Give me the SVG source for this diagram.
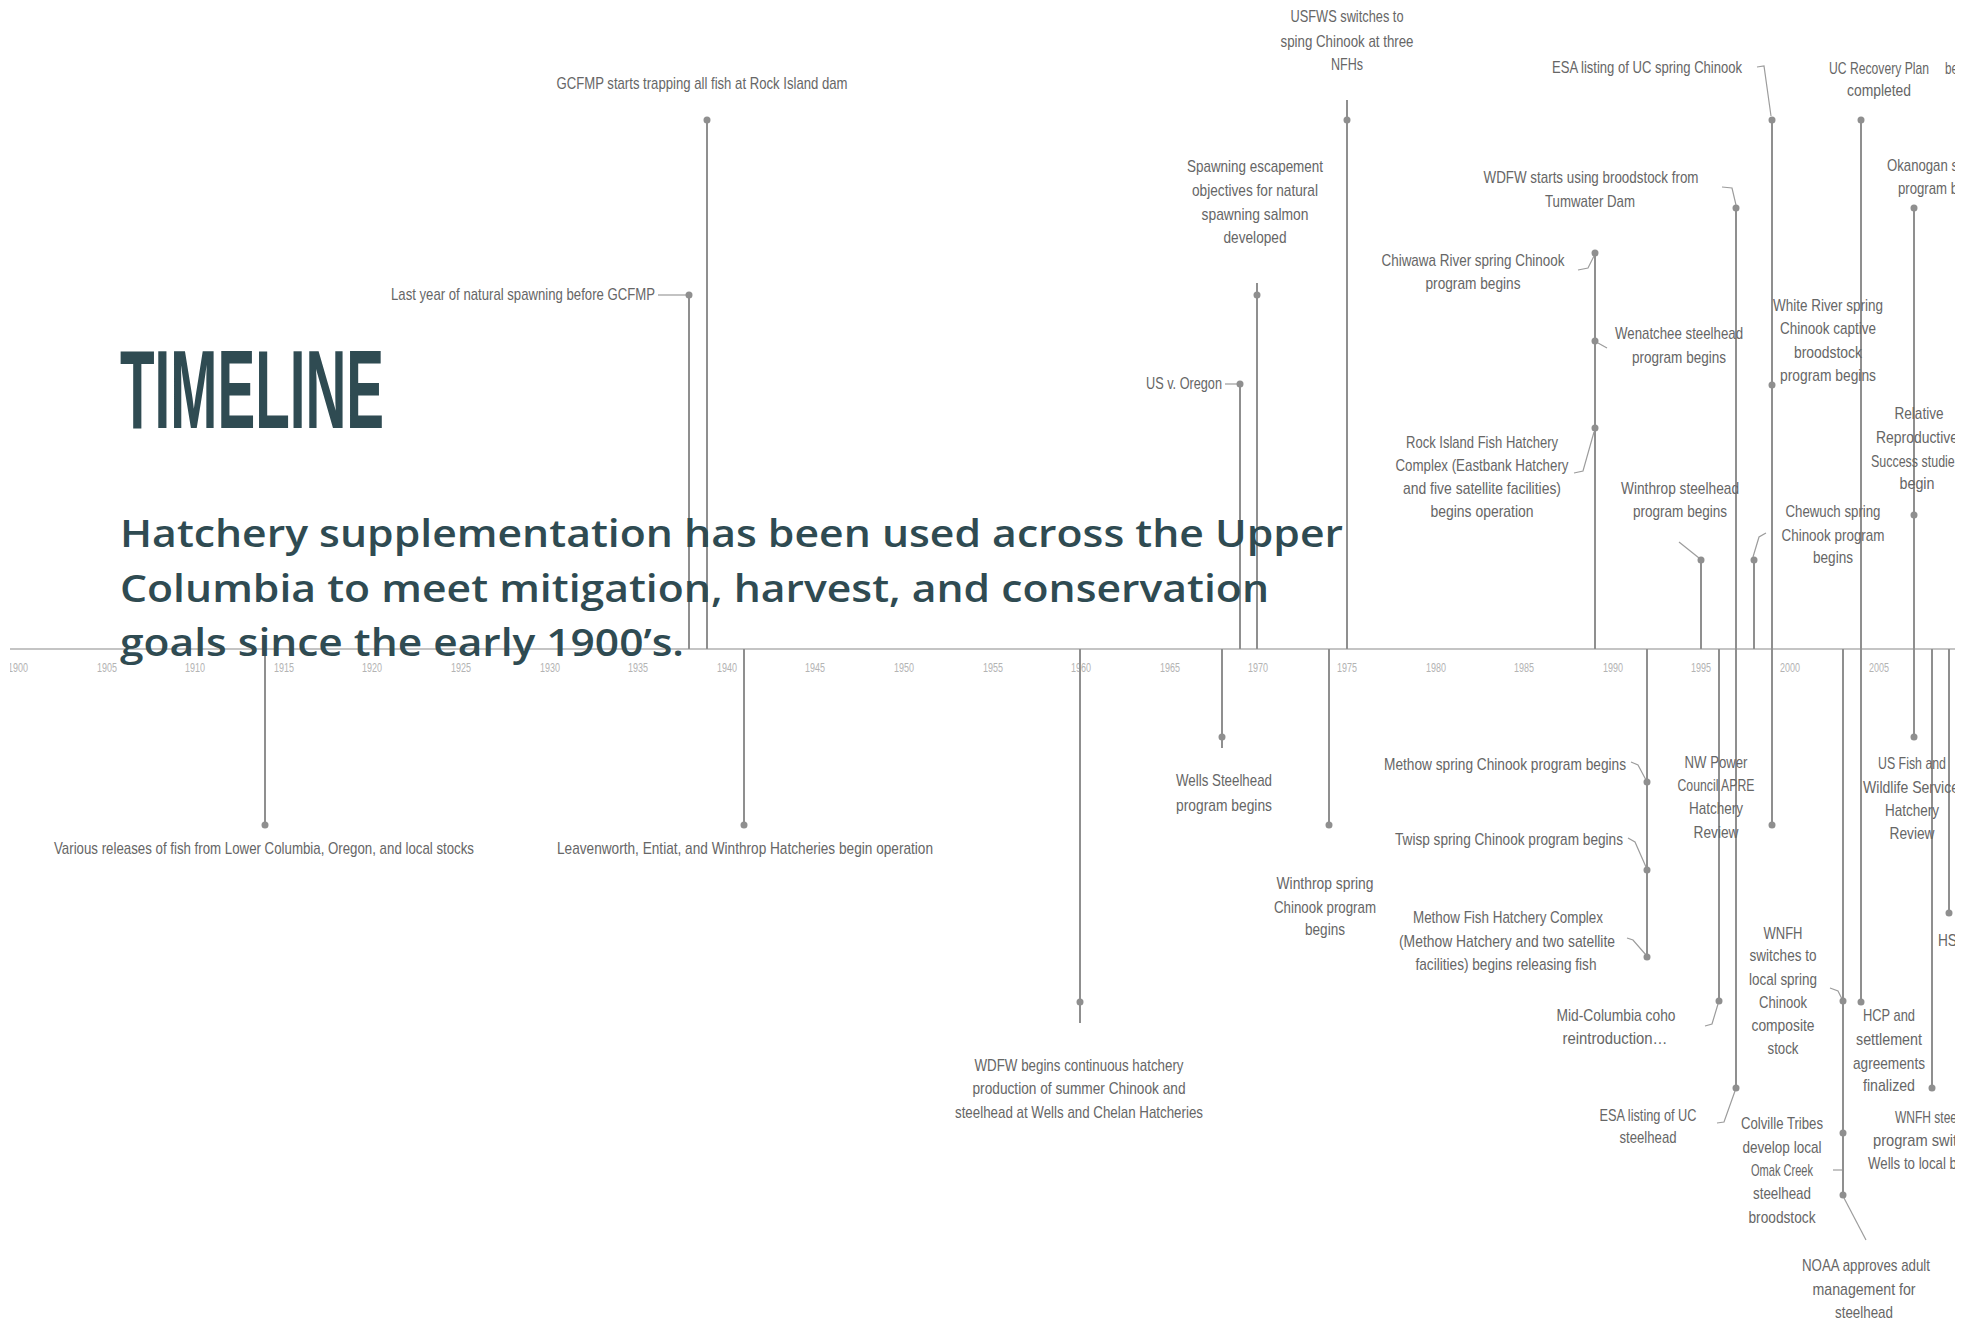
<svg xmlns="http://www.w3.org/2000/svg" width="1976" height="1322" viewBox="0 0 1976 1322">
<style>
text{font-family:"Liberation Sans",Arial,sans-serif}
.lbl{font-size:17px;fill:#666;text-anchor:middle}
.ls{font-size:17px;fill:#666;text-anchor:start}
.yr{font-size:13px;fill:#b3b3b3;text-anchor:middle}
.ln{stroke:#8f8f8f;stroke-width:2;fill:none}
.ld{stroke:#9c9c9c;stroke-width:1.2;fill:none}
.dt{fill:#8f8f8f}
.ttl{font-size:111px;font-weight:bold;fill:#2f4b52}
.sub{font-family:"Open Sans","Noto Sans",sans-serif;font-size:38px;font-weight:600;fill:#2f4b52}
</style>
<defs>
<clipPath id="cl"><rect x="10" y="0" width="1945" height="1322"/></clipPath>
</defs>
<rect width="1976" height="1322" fill="#fff"/>
<g clip-path="url(#cl)">
<g id="axis">
<line x1="10" y1="649" x2="1955" y2="649" stroke="#c4c4c4" stroke-width="2"/>
<g class="yr">
<text x="18" y="672" textLength="20" lengthAdjust="spacingAndGlyphs">1900</text>
<text x="107" y="672" textLength="20" lengthAdjust="spacingAndGlyphs">1905</text>
<text x="195" y="672" textLength="20" lengthAdjust="spacingAndGlyphs">1910</text>
<text x="284" y="672" textLength="20" lengthAdjust="spacingAndGlyphs">1915</text>
<text x="372" y="672" textLength="20" lengthAdjust="spacingAndGlyphs">1920</text>
<text x="461" y="672" textLength="20" lengthAdjust="spacingAndGlyphs">1925</text>
<text x="550" y="672" textLength="20" lengthAdjust="spacingAndGlyphs">1930</text>
<text x="638" y="672" textLength="20" lengthAdjust="spacingAndGlyphs">1935</text>
<text x="727" y="672" textLength="20" lengthAdjust="spacingAndGlyphs">1940</text>
<text x="815" y="672" textLength="20" lengthAdjust="spacingAndGlyphs">1945</text>
<text x="904" y="672" textLength="20" lengthAdjust="spacingAndGlyphs">1950</text>
<text x="993" y="672" textLength="20" lengthAdjust="spacingAndGlyphs">1955</text>
<text x="1081" y="672" textLength="20" lengthAdjust="spacingAndGlyphs">1960</text>
<text x="1170" y="672" textLength="20" lengthAdjust="spacingAndGlyphs">1965</text>
<text x="1258" y="672" textLength="20" lengthAdjust="spacingAndGlyphs">1970</text>
<text x="1347" y="672" textLength="20" lengthAdjust="spacingAndGlyphs">1975</text>
<text x="1436" y="672" textLength="20" lengthAdjust="spacingAndGlyphs">1980</text>
<text x="1524" y="672" textLength="20" lengthAdjust="spacingAndGlyphs">1985</text>
<text x="1613" y="672" textLength="20" lengthAdjust="spacingAndGlyphs">1990</text>
<text x="1701" y="672" textLength="20" lengthAdjust="spacingAndGlyphs">1995</text>
<text x="1790" y="672" textLength="20" lengthAdjust="spacingAndGlyphs">2000</text>
<text x="1879" y="672" textLength="20" lengthAdjust="spacingAndGlyphs">2005</text>
</g>
</g>
<g id="connectors">
<line class="ln" x1="265" y1="649" x2="265" y2="825"/>
<line class="ln" x1="689" y1="295" x2="689" y2="649"/>
<line class="ln" x1="707" y1="117" x2="707" y2="649"/>
<line class="ln" x1="744" y1="649" x2="744" y2="825"/>
<line class="ln" x1="1080" y1="649" x2="1080" y2="1023"/>
<line class="ln" x1="1222" y1="649" x2="1222" y2="748"/>
<line class="ln" x1="1240" y1="384" x2="1240" y2="649"/>
<line class="ln" x1="1257" y1="283" x2="1257" y2="649"/>
<line class="ln" x1="1329" y1="649" x2="1329" y2="825"/>
<line class="ln" x1="1347" y1="100" x2="1347" y2="649"/>
<line class="ln" x1="1595" y1="253" x2="1595" y2="649"/>
<line class="ln" x1="1647" y1="649" x2="1647" y2="957"/>
<line class="ln" x1="1701" y1="560" x2="1701" y2="649"/>
<line class="ln" x1="1719" y1="649" x2="1719" y2="1001"/>
<line class="ln" x1="1736" y1="208" x2="1736" y2="1088"/>
<line class="ln" x1="1754" y1="560" x2="1754" y2="649"/>
<line class="ln" x1="1772" y1="118" x2="1772" y2="825"/>
<line class="ln" x1="1843" y1="649" x2="1843" y2="1197"/>
<line class="ln" x1="1861" y1="120" x2="1861" y2="1002"/>
<line class="ln" x1="1914" y1="208" x2="1914" y2="737"/>
<line class="ln" x1="1932" y1="649" x2="1932" y2="1088"/>
<line class="ln" x1="1949" y1="649" x2="1949" y2="913"/>
<path class="ld" d="M658,295 H686"/>
<path class="ld" d="M1225,384 H1237"/>
<path class="ld" d="M1578,270 L1588,268 L1594,256"/>
<path class="ld" d="M1598,343 L1607,348"/>
<path class="ld" d="M1574,473 L1583,471 L1594,432"/>
<path class="ld" d="M1631,762 L1638,765 L1646,780"/>
<path class="ld" d="M1628,838 L1635,842 L1646,867"/>
<path class="ld" d="M1627,938 L1633,940 L1646,955"/>
<path class="ld" d="M1679,542 L1699,558"/>
<path class="ld" d="M1705,1026 L1712,1024 L1718,1004"/>
<path class="ld" d="M1722,187 L1732,188 L1736,205"/>
<path class="ld" d="M1717,1123 L1724,1122 L1735,1091"/>
<path class="ld" d="M1753,557 L1759,537 L1766,533"/>
<path class="ld" d="M1757,67 L1764,66 L1771,116"/>
<path class="ld" d="M1830,988 L1838,991 L1842,999"/>
<path class="ld" d="M1833,1170 H1842"/>
<path class="ld" d="M1844,1198 L1866,1240"/>
<g class="dt">
<circle cx="265" cy="825" r="3.5"/>
<circle cx="689" cy="295" r="3.5"/>
<circle cx="707" cy="120" r="3.5"/>
<circle cx="744" cy="825" r="3.5"/>
<circle cx="1080" cy="1002" r="3.5"/>
<circle cx="1222" cy="737" r="3.5"/>
<circle cx="1240" cy="384" r="3.5"/>
<circle cx="1257" cy="295" r="3.5"/>
<circle cx="1329" cy="825" r="3.5"/>
<circle cx="1347" cy="120" r="3.5"/>
<circle cx="1595" cy="253" r="3.5"/>
<circle cx="1595" cy="341" r="3.5"/>
<circle cx="1595" cy="428" r="3.5"/>
<circle cx="1647" cy="782" r="3.5"/>
<circle cx="1647" cy="870" r="3.5"/>
<circle cx="1647" cy="957" r="3.5"/>
<circle cx="1701" cy="560" r="3.5"/>
<circle cx="1719" cy="1001" r="3.5"/>
<circle cx="1736" cy="208" r="3.5"/>
<circle cx="1736" cy="1088" r="3.5"/>
<circle cx="1754" cy="560" r="3.5"/>
<circle cx="1772" cy="120" r="3.5"/>
<circle cx="1772" cy="385" r="3.5"/>
<circle cx="1772" cy="825" r="3.5"/>
<circle cx="1843" cy="1001" r="3.5"/>
<circle cx="1843" cy="1133" r="3.5"/>
<circle cx="1843" cy="1195" r="3.5"/>
<circle cx="1861" cy="120" r="3.5"/>
<circle cx="1861" cy="1002" r="3.5"/>
<circle cx="1914" cy="208" r="3.5"/>
<circle cx="1914" cy="515" r="3.5"/>
<circle cx="1914" cy="737" r="3.5"/>
<circle cx="1932" cy="1088" r="3.5"/>
<circle cx="1949" cy="913" r="3.5"/>
</g>
</g>
<g id="ev-gcfmp" class="lbl"><text x="702" y="89" textLength="291" lengthAdjust="spacingAndGlyphs">GCFMP starts trapping all fish at Rock Island dam</text></g>
<g id="ev-lastyear" class="lbl"><text x="523" y="300" textLength="264" lengthAdjust="spacingAndGlyphs">Last year of natural spawning before GCFMP</text></g>
<g id="ev-usvoregon" class="lbl"><text x="1184" y="389" textLength="76" lengthAdjust="spacingAndGlyphs">US v. Oregon</text></g>
<g id="ev-spawning" class="lbl">
<text x="1255" y="172" textLength="136" lengthAdjust="spacingAndGlyphs">Spawning escapement</text>
<text x="1255" y="196" textLength="126" lengthAdjust="spacingAndGlyphs">objectives for natural</text>
<text x="1255" y="220" textLength="107" lengthAdjust="spacingAndGlyphs">spawning salmon</text>
<text x="1255" y="243" textLength="63" lengthAdjust="spacingAndGlyphs">developed</text>
</g>
<g id="ev-usfws" class="lbl">
<text x="1347" y="22" textLength="113" lengthAdjust="spacingAndGlyphs">USFWS switches to</text>
<text x="1347" y="47" textLength="133" lengthAdjust="spacingAndGlyphs">sping Chinook at three</text>
<text x="1347" y="70" textLength="32" lengthAdjust="spacingAndGlyphs">NFHs</text>
</g>
<g id="ev-tumwater" class="lbl">
<text x="1591" y="183" textLength="215" lengthAdjust="spacingAndGlyphs">WDFW starts using broodstock from</text>
<text x="1590" y="207" textLength="90" lengthAdjust="spacingAndGlyphs">Tumwater Dam</text>
</g>
<g id="ev-chiwawa" class="lbl">
<text x="1473" y="266" textLength="183" lengthAdjust="spacingAndGlyphs">Chiwawa River spring Chinook</text>
<text x="1473" y="289" textLength="95" lengthAdjust="spacingAndGlyphs">program begins</text>
</g>
<g id="ev-wenatchee" class="lbl">
<text x="1679" y="339" textLength="128" lengthAdjust="spacingAndGlyphs">Wenatchee steelhead</text>
<text x="1679" y="363" textLength="94" lengthAdjust="spacingAndGlyphs">program begins</text>
</g>
<g id="ev-rockisland" class="lbl">
<text x="1482" y="448" textLength="152" lengthAdjust="spacingAndGlyphs">Rock Island Fish Hatchery</text>
<text x="1482" y="471" textLength="173" lengthAdjust="spacingAndGlyphs">Complex (Eastbank Hatchery</text>
<text x="1482" y="494" textLength="158" lengthAdjust="spacingAndGlyphs">and five satellite facilities)</text>
<text x="1482" y="517" textLength="103" lengthAdjust="spacingAndGlyphs">begins operation</text>
</g>
<g id="ev-winthropsteel" class="lbl">
<text x="1680" y="494" textLength="118" lengthAdjust="spacingAndGlyphs">Winthrop steelhead</text>
<text x="1680" y="517" textLength="94" lengthAdjust="spacingAndGlyphs">program begins</text>
</g>
<g id="ev-whiteriver" class="lbl">
<text x="1828" y="311" textLength="110" lengthAdjust="spacingAndGlyphs">White River spring</text>
<text x="1828" y="334" textLength="96" lengthAdjust="spacingAndGlyphs">Chinook captive</text>
<text x="1828" y="358" textLength="68" lengthAdjust="spacingAndGlyphs">broodstock</text>
<text x="1828" y="381" textLength="96" lengthAdjust="spacingAndGlyphs">program begins</text>
</g>
<g id="ev-chewuch" class="lbl">
<text x="1833" y="517" textLength="95" lengthAdjust="spacingAndGlyphs">Chewuch spring</text>
<text x="1833" y="541" textLength="103" lengthAdjust="spacingAndGlyphs">Chinook program</text>
<text x="1833" y="563" textLength="40" lengthAdjust="spacingAndGlyphs">begins</text>
</g>
<g id="ev-esaspring" class="lbl"><text x="1647" y="73" textLength="190" lengthAdjust="spacingAndGlyphs">ESA listing of UC spring Chinook</text></g>
<g id="ev-ucrecovery" class="lbl">
<text x="1879" y="74" textLength="100" lengthAdjust="spacingAndGlyphs">UC Recovery Plan</text>
<text x="1879" y="96" textLength="64" lengthAdjust="spacingAndGlyphs">completed</text>
</g>
<g id="ev-be" class="ls"><text x="1945" y="74" textLength="13" lengthAdjust="spacingAndGlyphs">be</text></g>
<g id="ev-okanogan" class="ls">
<text x="1887" y="171" textLength="71" lengthAdjust="spacingAndGlyphs">Okanogan s</text>
<text x="1898" y="194" textLength="60" lengthAdjust="spacingAndGlyphs">program b</text>
</g>
<g id="ev-rrs" class="lbl">
<text x="1919" y="419" textLength="49" lengthAdjust="spacingAndGlyphs">Relative</text>
<text x="1917" y="443" textLength="82" lengthAdjust="spacingAndGlyphs">Reproductive</text>
<text x="1916" y="467" textLength="90" lengthAdjust="spacingAndGlyphs">Success studies</text>
<text x="1917" y="489" textLength="35" lengthAdjust="spacingAndGlyphs">begin</text>
</g>
<g id="ev-various" class="lbl"><text x="264" y="854" textLength="420" lengthAdjust="spacingAndGlyphs">Various releases of fish from Lower Columbia, Oregon, and local stocks</text></g>
<g id="ev-leavenworth" class="lbl"><text x="745" y="854" textLength="376" lengthAdjust="spacingAndGlyphs">Leavenworth, Entiat, and Winthrop Hatcheries begin operation</text></g>
<g id="ev-wdfwbegins" class="lbl">
<text x="1079" y="1071" textLength="209" lengthAdjust="spacingAndGlyphs">WDFW begins continuous hatchery</text>
<text x="1079" y="1094" textLength="213" lengthAdjust="spacingAndGlyphs">production of summer Chinook and</text>
<text x="1079" y="1118" textLength="248" lengthAdjust="spacingAndGlyphs">steelhead at Wells and Chelan Hatcheries</text>
</g>
<g id="ev-wells" class="lbl">
<text x="1224" y="786" textLength="96" lengthAdjust="spacingAndGlyphs">Wells Steelhead</text>
<text x="1224" y="811" textLength="96" lengthAdjust="spacingAndGlyphs">program begins</text>
</g>
<g id="ev-winthropspring" class="lbl">
<text x="1325" y="889" textLength="97" lengthAdjust="spacingAndGlyphs">Winthrop spring</text>
<text x="1325" y="913" textLength="102" lengthAdjust="spacingAndGlyphs">Chinook program</text>
<text x="1325" y="935" textLength="40" lengthAdjust="spacingAndGlyphs">begins</text>
</g>
<g id="ev-methowspring" class="lbl"><text x="1505" y="770" textLength="242" lengthAdjust="spacingAndGlyphs">Methow spring Chinook program begins</text></g>
<g id="ev-twisp" class="lbl"><text x="1509" y="845" textLength="228" lengthAdjust="spacingAndGlyphs">Twisp spring Chinook program begins</text></g>
<g id="ev-methowfh" class="lbl">
<text x="1508" y="923" textLength="190" lengthAdjust="spacingAndGlyphs">Methow Fish Hatchery Complex</text>
<text x="1507" y="947" textLength="216" lengthAdjust="spacingAndGlyphs">(Methow Hatchery and two satellite</text>
<text x="1506" y="970" textLength="181" lengthAdjust="spacingAndGlyphs">facilities) begins releasing fish</text>
</g>
<g id="ev-nwpower" class="lbl">
<text x="1716" y="768" textLength="63" lengthAdjust="spacingAndGlyphs">NW Power</text>
<text x="1716" y="791" textLength="77" lengthAdjust="spacingAndGlyphs">Council APRE</text>
<text x="1716" y="814" textLength="54" lengthAdjust="spacingAndGlyphs">Hatchery</text>
<text x="1716" y="838" textLength="45" lengthAdjust="spacingAndGlyphs">Review</text>
</g>
<g id="ev-midcol" class="lbl">
<text x="1616" y="1021" textLength="119" lengthAdjust="spacingAndGlyphs">Mid-Columbia coho</text>
<text x="1615" y="1044" textLength="105" lengthAdjust="spacingAndGlyphs">reintroduction…</text>
</g>
<g id="ev-esasteel" class="lbl">
<text x="1648" y="1121" textLength="97" lengthAdjust="spacingAndGlyphs">ESA listing of UC</text>
<text x="1648" y="1143" textLength="57" lengthAdjust="spacingAndGlyphs">steelhead</text>
</g>
<g id="ev-wnfhswitch" class="lbl">
<text x="1783" y="939" textLength="39" lengthAdjust="spacingAndGlyphs">WNFH</text>
<text x="1783" y="961" textLength="67" lengthAdjust="spacingAndGlyphs">switches to</text>
<text x="1783" y="985" textLength="68" lengthAdjust="spacingAndGlyphs">local spring</text>
<text x="1783" y="1008" textLength="48" lengthAdjust="spacingAndGlyphs">Chinook</text>
<text x="1783" y="1031" textLength="63" lengthAdjust="spacingAndGlyphs">composite</text>
<text x="1783" y="1054" textLength="31" lengthAdjust="spacingAndGlyphs">stock</text>
</g>
<g id="ev-hcp" class="lbl">
<text x="1889" y="1021" textLength="52" lengthAdjust="spacingAndGlyphs">HCP and</text>
<text x="1889" y="1045" textLength="66" lengthAdjust="spacingAndGlyphs">settlement</text>
<text x="1889" y="1069" textLength="72" lengthAdjust="spacingAndGlyphs">agreements</text>
<text x="1889" y="1091" textLength="52" lengthAdjust="spacingAndGlyphs">finalized</text>
</g>
<g id="ev-wnfhsteel" class="ls">
<text x="1895" y="1123" textLength="62" lengthAdjust="spacingAndGlyphs">WNFH stee</text>
<text x="1873" y="1146" textLength="84" lengthAdjust="spacingAndGlyphs">program swit</text>
<text x="1868" y="1169" textLength="89" lengthAdjust="spacingAndGlyphs">Wells to local b</text>
</g>
<g id="ev-colville" class="lbl">
<text x="1782" y="1129" textLength="82" lengthAdjust="spacingAndGlyphs">Colville Tribes</text>
<text x="1782" y="1153" textLength="79" lengthAdjust="spacingAndGlyphs">develop local</text>
<text x="1782" y="1176" textLength="62" lengthAdjust="spacingAndGlyphs">Omak Creek</text>
<text x="1782" y="1199" textLength="58" lengthAdjust="spacingAndGlyphs">steelhead</text>
<text x="1782" y="1223" textLength="67" lengthAdjust="spacingAndGlyphs">broodstock</text>
</g>
<g id="ev-noaa" class="lbl">
<text x="1866" y="1271" textLength="128" lengthAdjust="spacingAndGlyphs">NOAA approves adult</text>
<text x="1864" y="1295" textLength="103" lengthAdjust="spacingAndGlyphs">management for</text>
<text x="1864" y="1318" textLength="58" lengthAdjust="spacingAndGlyphs">steelhead</text>
</g>
<g id="ev-usfishreview" class="lbl">
<text x="1912" y="769" textLength="68" lengthAdjust="spacingAndGlyphs">US Fish and</text>
<text x="1911" y="793" textLength="96" lengthAdjust="spacingAndGlyphs">Wildlife Service</text>
<text x="1912" y="816" textLength="54" lengthAdjust="spacingAndGlyphs">Hatchery</text>
<text x="1912" y="839" textLength="45" lengthAdjust="spacingAndGlyphs">Review</text>
</g>
<g id="ev-hs" class="ls"><text x="1938" y="946" textLength="19" lengthAdjust="spacingAndGlyphs">HS</text></g>
</g>
<g id="heading">
<text class="ttl" x="120" y="428" textLength="264" lengthAdjust="spacingAndGlyphs">TIMELINE</text>
<text class="sub" x="120" y="547" textLength="1223" lengthAdjust="spacingAndGlyphs">Hatchery supplementation has been used across the Upper</text>
<text class="sub" x="120" y="602" textLength="1149" lengthAdjust="spacingAndGlyphs">Columbia to meet mitigation, harvest, and conservation</text>
<text class="sub" x="120" y="656" textLength="564" lengthAdjust="spacingAndGlyphs">goals since the early 1900’s.</text>
</g>
</svg>
